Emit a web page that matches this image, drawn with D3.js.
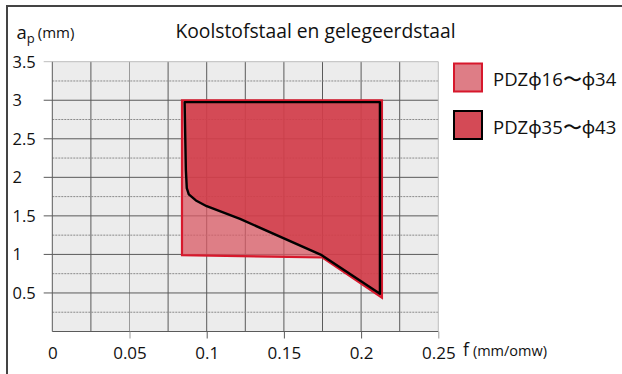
<!DOCTYPE html>
<html><head><meta charset="utf-8">
<script src="https://cdn.jsdelivr.net/npm/d3@7"></script>
<style>
body{margin:0;background:#fff;}
text{font-family:"Open Sans","Noto Sans",sans-serif;fill:#111;}
</style></head>
<body><svg id="c" width="622" height="374"></svg>
<script>
const title = "Koolstofstaal en gelegeerdstaal";
const xTicks = [0, 0.05, 0.1, 0.15, 0.2, 0.25];
const xTickLabels = ["0", "0.05", "0.1", "0.15", "0.2", "0.25"];
const yTicks = [0.5, 1, 1.5, 2, 2.5, 3, 3.5];
const yTickLabels = ["0.5", "1", "1.5", "2", "2.5", "3", "3.5"];
const seriesNames = ["PDZϕ16〜ϕ34", "PDZϕ35〜ϕ43"];
// polygon outlines: [f, ap]
const smallRange = [[0.084,3.0],[0.2135,3.0],[0.2135,0.44],[0.175,0.96],[0.084,0.99]];
const largeRange = [[0.0857,2.975],[0.0865,2.10],[0.0871,1.86],[0.0884,1.78],[0.093,1.70],[0.100,1.625],[0.1216,1.46],[0.1745,0.99],[0.2122,0.49],[0.2122,2.975]];

const svg = d3.select("#c");
const x = d3.scaleLinear().domain([0,0.25]).range([52.3,438.3]);
const y = d3.scaleLinear().domain([0,3.5]).range([331.5,61.7]);

// outer frame (left + top)
svg.append("path").attr("d","M7,374 L7,6 L622,6").attr("fill","none").attr("stroke","#444").attr("stroke-width",2);

// plot bg
svg.append("rect").attr("x",x(0)).attr("y",y(3.5)).attr("width",x(0.25)-x(0)).attr("height",y(0)-y(3.5)).attr("fill","#ececec");

// grid
const vGrid = d3.range(1,10).map(i=>i*0.025);
svg.append("g").selectAll("line").data(vGrid).join("line")
  .attr("x1",d=>x(d)).attr("x2",d=>x(d)).attr("y1",y(0)).attr("y2",y(3.5))
  .attr("stroke",d=>Math.abs(d-0.05)<1e-9?"#9a9a9a":"#5a5a5a").attr("stroke-width",1);
const hSolid = [0.5,1,1.5,2,2.5,3];
svg.append("g").selectAll("line").data(hSolid).join("line")
  .attr("x1",x(0)).attr("x2",x(0.25)).attr("y1",d=>y(d)).attr("y2",d=>y(d))
  .attr("stroke","#5a5a5a").attr("stroke-width",1);
const hDash = [0.25,0.75,1.25,1.75,2.25,2.75,3.25];
svg.append("g").selectAll("line").data(hDash).join("line")
  .attr("x1",x(0)).attr("x2",x(0.25)).attr("y1",d=>y(d)).attr("y2",d=>y(d))
  .attr("stroke","#8a8a8a").attr("stroke-width",1).attr("stroke-dasharray","2,1");
// border
svg.append("line").attr("x1",x(0)).attr("x2",x(0.25)).attr("y1",y(3.5)).attr("y2",y(3.5)).attr("stroke","#bdbdbd");
svg.append("line").attr("x1",x(0.25)).attr("x2",x(0.25)).attr("y1",y(3.5)).attr("y2",y(0)).attr("stroke","#bdbdbd");
svg.append("line").attr("x1",x(0)).attr("x2",x(0)).attr("y1",y(3.5)).attr("y2",y(0)).attr("stroke","#5a5a5a");
svg.append("line").attr("x1",x(0)).attr("x2",x(0.25)).attr("y1",y(0)).attr("y2",y(0)).attr("stroke","#5a5a5a");

// axes ticks
const xAxis = d3.axisBottom(x).tickValues(xTicks).tickFormat((d,i)=>xTickLabels[i]).tickSize(7).tickPadding(8);
const gx = svg.append("g").attr("transform",`translate(0,${y(0)})`).call(xAxis);
gx.select(".domain").remove();
gx.selectAll(".tick line").attr("stroke",d=>d===0?"none":(d===0.05||d===0.25?"#9a9a9a":"#5a5a5a"));
gx.selectAll("text").attr("font-size",17).attr("fill","#111").attr("font-family","Open Sans, Noto Sans, sans-serif");

const gy = svg.append("g");
gy.selectAll("line").data(yTicks).join("line")
  .attr("x1",43.7).attr("x2",x(0)).attr("y1",d=>y(d)).attr("y2",d=>y(d))
  .attr("stroke",d=>d===3.5?"#bdbdbd":"#5a5a5a");
gy.selectAll("text").data(yTicks).join("text")
  .attr("x",12.5).attr("y",d=>y(d)).attr("dy","0.36em").attr("font-size",16.5)
  .text((d,i)=>yTickLabels[i]);

// polygons
const line = d3.line().x(d=>x(d[0])).y(d=>y(d[1]));
svg.append("path").attr("d",line(smallRange)+"Z")
  .attr("fill","rgb(217,89,100)").attr("fill-opacity",0.75)
  .attr("stroke","#d7182c").attr("stroke-width",2.2).attr("stroke-linejoin","miter");
svg.append("path").attr("d",line(largeRange)+"Z")
  .attr("fill","rgb(208,52,65)").attr("fill-opacity",0.7)
  .attr("stroke","#000").attr("stroke-width",2.4).attr("stroke-linejoin","round");

// title
svg.append("text").attr("x",315.5).attr("y",38).attr("text-anchor","middle").attr("font-size",19.3).text(title);

// y label
const yl = svg.append("text").attr("x",16.5).attr("y",39).attr("font-size",18.5);
yl.append("tspan").text("a");
yl.append("tspan").attr("font-size",13).attr("dy",4).text("p");
yl.append("tspan").attr("font-size",15).attr("dy",-5).attr("dx",3).text("(mm)");

// x label
const xl = svg.append("text").attr("x",463).attr("y",356).attr("font-size",17.5);
xl.append("tspan").text("f");
xl.append("tspan").attr("font-size",14.5).attr("dx",4).text("(mm/omw)");

// legend
const leg = svg.append("g");
const legStyles = [{fill:"rgb(222,125,134)",stroke:"#d7182c"},{fill:"rgb(212,74,86)",stroke:"#000"}];
seriesNames.forEach((n,i)=>{
  const yy = 63.5 + i*47.5;
  leg.append("rect").attr("x",454).attr("y",yy).attr("width",28).attr("height",28)
    .attr("fill",legStyles[i].fill).attr("stroke",legStyles[i].stroke).attr("stroke-width",2);
  leg.append("text").attr("x",493).attr("y",yy+22.5).attr("font-size",18.5).text(n);
});
</script></body></html>
